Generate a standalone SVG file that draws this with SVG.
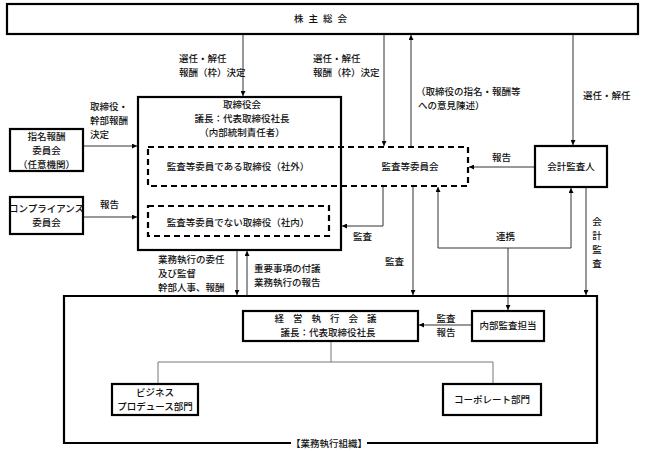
<svg xmlns="http://www.w3.org/2000/svg" width="646" height="451" viewBox="0 0 646 451">
<style>
text{font-family:"Noto Sans CJK JP","Noto Sans CJK SC",sans-serif;font-size:9.5px;font-weight:500;fill:#111;}
.c{text-anchor:middle;}
.box{fill:#fff;stroke:#000;stroke-width:2.2;}
.dash{fill:none;stroke:#000;stroke-width:2.2;stroke-dasharray:6,4;}
.ln{fill:none;stroke:#333;stroke-width:1;}
.tree{fill:none;stroke:#777;stroke-width:1;}
</style>
<defs>
<marker id="ah" viewBox="0 0 10 10" refX="10" refY="5" markerWidth="5" markerHeight="5" orient="auto" markerUnits="userSpaceOnUse">
<path d="M0,0 L10,5 L0,10 z" fill="#000"/>
</marker>
</defs>
<rect width="646" height="451" fill="#fff"/>

<g id="connectors">
<path class="ln" d="M243,34 V96" marker-end="url(#ah)"/>
<path class="ln" d="M384,34 V146" marker-end="url(#ah)"/>
<path class="ln" d="M411,146 V35" marker-end="url(#ah)"/>
<path class="ln" d="M573,34 V145" marker-end="url(#ah)"/>
<path class="ln" d="M83,146 H137" marker-end="url(#ah)"/>
<path class="ln" d="M83,217 H137" marker-end="url(#ah)"/>
<path class="ln" d="M535,167 H469" marker-end="url(#ah)"/>
<path class="ln" d="M383,187 V226 H342" marker-end="url(#ah)"/>
<path class="ln" d="M413,187 V295" marker-end="url(#ah)"/>
<path class="ln" d="M438,248 V187" marker-end="url(#ah)"/>
<path class="ln" d="M438,248 H571 V188" marker-end="url(#ah)"/>
<path class="ln" d="M508,248 V310" marker-end="url(#ah)"/>
<path class="ln" d="M586,188 V295" marker-end="url(#ah)"/>
<path class="ln" d="M237,251 V295" marker-end="url(#ah)"/>
<path class="ln" d="M247,296 V251" marker-end="url(#ah)"/>
<path class="ln" d="M472,325 H419" marker-end="url(#ah)"/>
<path class="tree" d="M331,341 V362 M158,384 V362 H493 V384"/>
</g>

<g id="labels">
<text x="179" y="62">選任・解任</text>
<text x="179" y="76">報酬（枠）決定</text>
<text x="313" y="62">選任・解任</text>
<text x="313" y="76">報酬（枠）決定</text>
<text x="416" y="95">（取締役の指名・報酬等</text>
<text x="418" y="109">への意見陳述）</text>
<text x="583" y="99">選任・解任</text>
<text x="90" y="110">取締役・</text>
<text x="90" y="124">幹部報酬</text>
<text x="90" y="138">決定</text>
<text x="100" y="208">報告</text>
<text x="492" y="161">報告</text>
<text x="353" y="240">監査</text>
<text x="385" y="265">監査</text>
<text x="496" y="240">連携</text>
<text class="c" x="597" y="225">会</text>
<text class="c" x="597" y="239">計</text>
<text class="c" x="597" y="253">監</text>
<text class="c" x="597" y="267">査</text>
<text x="158" y="263">業務執行の委任</text>
<text x="158" y="277">及び監督</text>
<text x="158" y="291">幹部人事、報酬</text>
<text x="254" y="272">重要事項の付議</text>
<text x="254" y="286">業務執行の報告</text>
<text class="c" x="446" y="322">監査</text>
<text class="c" x="446" y="336">報告</text>
</g>

<g id="shareholders">
<rect class="box" x="7" y="4" width="631" height="30"/>
<text class="c" x="323" y="22" style="letter-spacing:5px">株主総会</text>
</g>

<g id="board">
<rect class="box" x="138" y="97" width="203" height="153"/>
<text class="c" x="242" y="108">取締役会</text>
<text class="c" x="242" y="122">議長：代表取締役社長</text>
<text class="c" x="242" y="136">（内部統制責任者）</text>
</g>

<g id="audit-committee">
<rect class="dash" x="148" y="147" width="320" height="39"/>
<text class="c" x="238" y="170">監査等委員である取締役（社外）</text>
<text class="c" x="410" y="170">監査等委員会</text>
</g>

<g id="internal-directors">
<rect class="dash" x="148" y="206" width="181" height="30"/>
<text class="c" x="238" y="226">監査等委員でない取締役（社内）</text>
</g>

<g id="nomination">
<rect class="box" x="10" y="129" width="73" height="42"/>
<text class="c" x="46.5" y="140">指名報酬</text>
<text class="c" x="46.5" y="154">委員会</text>
<text class="c" x="46.5" y="168">（任意機関）</text>
</g>

<g id="compliance">
<rect class="box" x="10" y="197" width="73" height="37"/>
<text class="c" x="46.5" y="212">コンプライアンス</text>
<text class="c" x="46.5" y="226">委員会</text>
</g>

<g id="auditor">
<rect class="box" x="535" y="146" width="72" height="41"/>
<text class="c" x="571" y="170">会計監査人</text>
</g>

<g id="exec-org">
<path d="M291,443 H64 V296 H597 V443 H367" fill="none" stroke="#000" stroke-width="2.2"/>
<text x="291" y="446.5">【業務執行組織】</text>
</g>

<g id="exec-meeting">
<rect class="box" x="243" y="311" width="175" height="30"/>
<text class="c" x="330" y="322" style="letter-spacing:9px">経営執行会議</text>
<text class="c" x="328" y="336">議長：代表取締役社長</text>
</g>

<g id="internal-audit">
<rect class="box" x="472" y="311" width="72" height="30"/>
<text class="c" x="508" y="329">内部監査担当</text>
</g>

<g id="business">
<rect class="box" x="112" y="384" width="86" height="31"/>
<text class="c" x="155" y="396">ビジネス</text>
<text class="c" x="155" y="410">プロデュース部門</text>
</g>

<g id="corporate">
<rect class="box" x="443" y="384" width="98" height="31"/>
<text class="c" x="492" y="403">コーポレート部門</text>
</g>
</svg>
